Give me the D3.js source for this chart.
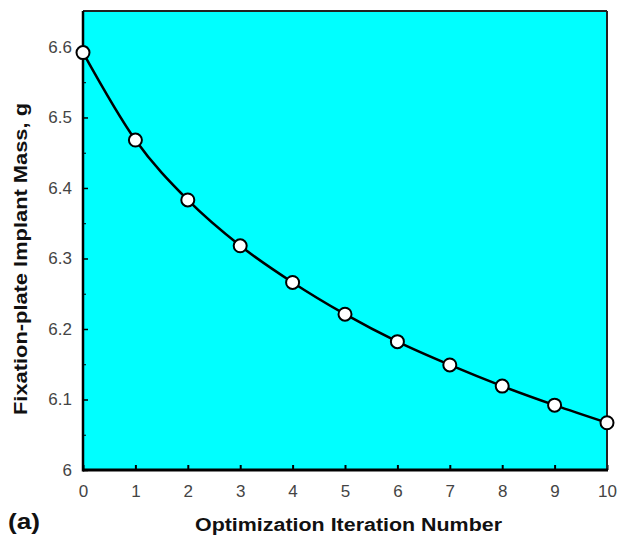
<!DOCTYPE html>
<html><head><meta charset="utf-8">
<script src="https://cdn.jsdelivr.net/npm/d3@7"></script>
<style>body{margin:0;background:#fff}svg{display:block}</style>
</head><body>
<svg id="c" width="620" height="535"></svg>
<script>
const iterations = [0,1,2,3,4,5,6,7,8,9,10];
const mass = [6.592,6.468,6.383,6.318,6.266,6.221,6.182,6.149,6.119,6.092,6.067];
const xTicks = [0,1,2,3,4,5,6,7,8,9,10];
const yTicks = [6,6.1,6.2,6.3,6.4,6.5,6.6];
const yMinorTicks = [6.05,6.15,6.25,6.35,6.45,6.55];

const svg = d3.select("#c");
const L=83, R=607, T=11, B=470;
const x = d3.scaleLinear().domain([0,10]).range([L,R]);
const y = d3.scaleLinear().domain([6,6.651]).range([B,T]);

svg.append("rect").attr("x",L).attr("y",T).attr("width",R-L).attr("height",B-T).attr("fill","#00FFFF");

const font = "Liberation Sans, Arial, sans-serif";
// x axis
const xa = svg.append("g").attr("transform",`translate(0,${B})`)
  .call(d3.axisBottom(x).tickValues(xTicks).tickFormat(d3.format("d")).tickSizeInner(-5).tickSizeOuter(0).tickPadding(15));
xa.select(".domain").remove();
xa.selectAll("line").attr("stroke","#000").attr("stroke-width",2);
xa.selectAll("text").attr("font-family",font).attr("font-size",17).attr("fill","#444");

const ya = svg.append("g").attr("transform",`translate(${L},0)`)
  .call(d3.axisLeft(y).tickValues(yTicks).tickFormat(d=>d===6?"6":d3.format(".1f")(d)).tickSizeInner(-5).tickSizeOuter(0).tickPadding(11));
ya.select(".domain").remove();
ya.selectAll("line").attr("stroke","#000").attr("stroke-width",1.5);
ya.selectAll("text").attr("font-family",font).attr("font-size",17).attr("fill","#444");

const ym = svg.append("g").attr("transform",`translate(${L},0)`)
  .call(d3.axisLeft(y).tickValues(yMinorTicks).tickFormat("").tickSizeInner(-3).tickSizeOuter(0));
ym.select(".domain").remove();
ym.selectAll("line").attr("stroke","#000").attr("stroke-width",1);

// frame
svg.append("line").attr("x1",L).attr("x2",R).attr("y1",T).attr("y2",T).attr("stroke","#222").attr("stroke-width",2);
svg.append("line").attr("x1",R).attr("x2",R).attr("y1",T).attr("y2",B).attr("stroke","#222").attr("stroke-width",2);
svg.append("line").attr("x1",L).attr("x2",L).attr("y1",T).attr("y2",B+1.5).attr("stroke","#000").attr("stroke-width",2.5);
svg.append("line").attr("x1",L).attr("x2",R+1).attr("y1",B).attr("y2",B).attr("stroke","#000").attr("stroke-width",3);

const data = iterations.map((d,i)=>({x:d,y:mass[i]}));
svg.append("path").datum(data)
  .attr("d", d3.line().x(d=>x(d.x)).y(d=>y(d.y)).curve(d3.curveMonotoneX))
  .attr("fill","none").attr("stroke","#000").attr("stroke-width",2.5);
svg.selectAll("circle.pt").data(data).join("circle").attr("class","pt")
  .attr("cx",d=>x(d.x)).attr("cy",d=>y(d.y)).attr("r",6.5)
  .attr("fill","#fff").attr("stroke","#000").attr("stroke-width",2);

svg.append("text").attr("x",348.5).attr("y",531).attr("text-anchor","middle")
  .attr("font-family",font).attr("font-weight","bold").attr("font-size",18).attr("fill","#111")
  .attr("textLength",307).attr("lengthAdjust","spacingAndGlyphs")
  .text("Optimization Iteration Number");
svg.append("text").attr("transform",`translate(27,259) rotate(-90)`).attr("text-anchor","middle")
  .attr("font-family",font).attr("font-weight","bold").attr("font-size",18).attr("fill","#111")
  .attr("textLength",312).attr("lengthAdjust","spacingAndGlyphs")
  .text("Fixation-plate Implant Mass, g");
svg.append("text").attr("x",8).attr("y",529)
  .attr("font-family",font).attr("font-weight","bold").attr("font-size",22).attr("fill","#111")
  .attr("textLength",32).attr("lengthAdjust","spacingAndGlyphs")
  .text("(a)");
</script>
</body></html>
